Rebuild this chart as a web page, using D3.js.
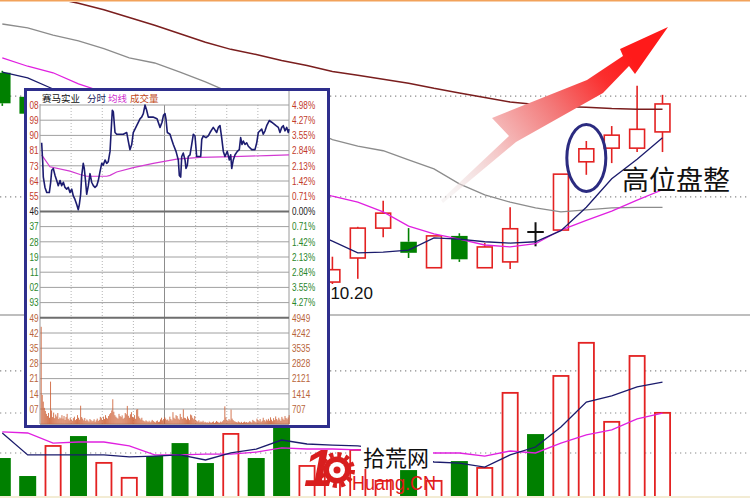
<!DOCTYPE html>
<html><head><meta charset="utf-8">
<script src="https://cdn.jsdelivr.net/npm/d3@7"></script>
<style>
html,body{margin:0;padding:0;background:#fff;}
svg{display:block;}
text{font-family:"Liberation Sans",Arial,sans-serif;}
.cjk{font-family:"Noto Sans CJK SC","Noto Sans",sans-serif;}
</style></head><body>
<svg id="chart" width="750" height="498"></svg>
<script>
// ---------- daily K-line (day 0 = the 10.20 low) ----------
const days = d3.range(-13, 14);
const candleDay   = [-13, -12, 0, 1, 2, 3, 4, 5, 6, 7, 8, 9, 10, 11, 12, 13];
const candleOpen  = [13.45, 13.08, 10.23, 10.60, 11.06, 10.85, 10.45, 10.94, 10.45, 10.54, 11.00, 11.03, 12.08, 12.29, 12.29, 12.54];
const candleHigh  = [13.48, 13.11, 10.62, 11.08, 11.48, 11.06, 10.94, 10.98, 10.83, 11.38, 11.15, 11.89, 12.40, 12.63, 13.25, 13.11];
const candleLow   = [12.94, 12.78, 10.20, 10.28, 10.92, 10.60, 10.45, 10.54, 10.45, 10.43, 10.78, 11.03, 11.88, 12.06, 12.23, 12.23];
const candleClose = [12.98, 12.82, 10.42, 11.06, 11.29, 10.68, 10.94, 10.58, 10.77, 11.05, 11.00, 11.89, 12.28, 12.49, 12.58, 12.97];

// moving averages of price, one value per day
const ma5  = [13.46, 13.37, 13.20, 13.03, 12.85, 12.65, 12.42, 12.18, 11.95, 11.72, 11.49, 11.26, 11.03,
              10.86, 10.68, 10.69, 10.72, 10.91, 10.89, 10.85, 10.83, 10.85, 11.02, 11.38, 11.82, 12.12, 12.45];
const ma10 = [13.68, 13.55, 13.45, 13.28, 13.15, 13.00, 12.83, 12.65, 12.45, 12.26, 12.06, 11.88, 11.69,
              11.55, 11.46, 11.31, 11.09, 10.97, 10.89, 10.80, 10.77, 10.82, 11.03, 11.18, 11.32, 11.49, 11.65];
const ma30 = [14.20, 14.14, 14.03, 13.94, 13.82, 13.68, 13.60, 13.46, 13.31, 13.14, 12.97, 12.78, 12.60,
              12.42, 12.32, 12.25, 12.11, 11.97, 11.74, 11.57, 11.46, 11.37, 11.31, 11.34, 11.37, 11.38, 11.38];
const ma60 = [14.80, 14.69, 14.60, 14.52, 14.42, 14.30, 14.18, 14.05, 13.92, 13.81, 13.73, 13.64, 13.56,
              13.47, 13.41, 13.35, 13.29, 13.21, 13.14, 13.07, 13.00, 12.96, 12.93, 12.92, 12.90, 12.89, 12.89];

// daily volume (手) and whether the day closed up
const volume   = [2110, 1110, 2830, 3330, 1890, 1060, 2220, 2940, 1830, 3500, 2110, 4220, 1720,
                  1670, 2610, 890, 1440, 890, 1940, 1610, 5780, 3440, 6720, 8560, 4170, 7830, 4670];
const volumeUp = [0, 0, 1, 0, 1, 1, 0, 0, 0, 1, 0, 0, 1,
                  1, 1, 1, 0, 1, 0, 1, 1, 0, 1, 1, 1, 1, 1];
const volMa5   = [3500, 2280, 2280, 2280, 2280, 2170, 2220, 2280, 2000, 2390, 2610, 3110, 2890,
                  2830, 2780, 2610, 2280, 1890, 1830, 1610, 2280, 2720, 3830, 5220, 5560, 6060, 6330];
const volMa10  = [3560, 3500, 2940, 3000, 3000, 2780, 2280, 2280, 2330, 2330, 2440, 2670, 2610,
                  2610, 2560, 2560, 2500, 2390, 2390, 2220, 2500, 2390, 2940, 3390, 3670, 4280, 4610];
const priceGridLevels = [13.09, 11.54];
const volGridLevels = [6950, 4610, 2390];

// ---------- intraday panel (分时) ----------
const stockName = "赛马实业";
const prevClose = 12.46;
const limitPct = 4.98;
const minuteT = [1.6, 2.6, 3.2, 4.8, 6.5, 9, 10.3, 11.3, 12.8, 14.5,
  16.1, 17.6, 19.3, 20.9, 22.5, 24.1, 25.7, 27.3, 28.9, 30.6,
  32.1, 33.7, 35.4, 36.9, 37.9, 39.2, 40.2, 41.7, 42.7, 44,
  45, 46.6, 48.2, 49.8, 51.4, 53, 54.7, 56.2, 57.8, 59.5,
  61, 62.7, 64.3, 65.8, 67.5, 68.4, 69.7, 70.7, 72.3, 73.9,
  77.1, 80.3, 83.6, 85.1, 86.7, 88.4, 89.9, 93.2, 96.4, 98,
  99.6, 101.2, 102.8, 104.4, 108.9, 112.8, 115.7, 117.6, 119, 120.5,
  121.4, 122.7, 125.3, 126.9, 128.5, 131.1, 133.3, 134.3, 135.6, 136.6,
  138.1, 139.8, 140.7, 142, 142.9, 144.6, 146.2, 147.8, 149.4, 151,
  154.9, 155.9, 157.4, 160, 162.2, 163.9, 167, 170.3, 171.9, 173.5,
  175.1, 176.7, 178.3, 180.5, 182.5, 183.8, 184.8, 186.3, 188, 190.2,
  192.1, 193.4, 194.7, 196, 197.6, 199.2, 200.8, 204.1, 207.2, 208.9,
  210.4, 213.7, 215.2, 216.9, 218.5, 221, 223.3, 227.5, 229.7, 231.3,
  233, 234.5, 236.1, 237.8, 239.3, 240];
const minutePrice = [12.86, 12.75, 12.66, 12.60, 12.57, 12.57, 12.63, 12.70, 12.71, 12.67,
  12.64, 12.61, 12.64, 12.61, 12.63, 12.60, 12.59, 12.60, 12.57, 12.59,
  12.55, 12.53, 12.50, 12.47, 12.50, 12.56, 12.67, 12.74, 12.71, 12.63,
  12.56, 12.61, 12.68, 12.63, 12.61, 12.60, 12.61, 12.64, 12.69, 12.74,
  12.73, 12.76, 12.74, 12.75, 12.81, 12.91, 13.05, 13.04, 12.92, 12.91,
  12.91, 12.91, 12.92, 12.87, 12.82, 12.85, 12.92, 12.96, 13.00, 13.01,
  13.03, 13.08, 13.05, 13.01, 13.01, 13.00, 12.95, 12.98, 13.02, 13.03,
  13.00, 12.92, 12.91, 12.88, 12.85, 12.81, 12.76, 12.67, 12.66, 12.78,
  12.80, 12.76, 12.71, 12.73, 12.78, 12.79, 12.85, 12.91, 12.90, 12.78,
  12.78, 12.88, 12.90, 12.89, 12.90, 12.92, 12.95, 12.92, 12.95, 12.96,
  12.89, 12.81, 12.78, 12.81, 12.76, 12.79, 12.71, 12.76, 12.79, 12.81,
  12.82, 12.89, 12.85, 12.87, 12.85, 12.86, 12.84, 12.82, 12.82, 12.86,
  12.92, 12.94, 12.91, 12.93, 12.96, 12.99, 12.98, 12.96, 12.95, 12.92,
  12.95, 12.96, 12.93, 12.95, 12.92, 12.94];
const avgT     = [1.6, 9.6, 28.9, 38.6, 45, 64.3, 67.5, 73.9, 89.9, 109.2, 131.8, 154.2, 186.3, 218.5, 240];
const avgPrice = [12.79, 12.72, 12.695, 12.675, 12.665, 12.665, 12.67, 12.69, 12.715, 12.74, 12.765, 12.775, 12.78, 12.785, 12.79];
const minuteVolume = [
  4530, 1360, 1050, 760, 620, 480, 380, 520, 300, 1980, 640, 330, 540, 280, 450, 360, 520, 240, 310, 270,
  420, 260, 380, 200, 330, 480, 250, 180, 300, 220, 160, 280, 350, 190, 240, 420, 300, 210, 860, 330,
  260, 180, 290, 150, 220, 170, 120, 240, 190, 130, 160, 230, 110, 180, 260, 150, 200, 340, 280, 190,
  350, 240, 420, 300, 260, 380, 460, 520, 640, 1160, 580, 420, 350, 300, 260, 480, 380, 330, 410, 250,
  300, 520, 460, 850, 390, 300, 460, 560, 340, 300, 420, 250, 680, 700, 360, 280, 220, 300, 180, 150,
  120, 180, 140, 100, 160, 90, 130, 200, 150, 110, 80, 140, 170, 100, 120, 220, 300, 180, 240, 330,
  260, 190, 220, 160, 350, 240, 180, 560, 300, 240, 420, 380, 260, 210, 480, 330, 250, 690, 300, 280,
  220, 360, 260, 190, 450, 410, 300, 230, 380, 190, 150, 120, 180, 90, 130, 100, 160, 80, 110, 70,
  90, 60, 120, 80, 70, 100, 130, 60, 90, 150, 110, 80, 70, 120, 90, 140, 200, 830, 320, 180,
  150, 240, 180, 680, 260, 190, 140, 120, 100, 80, 130, 90, 70, 110, 60, 90, 120, 80, 100, 70,
  90, 140, 110, 80, 200, 150, 120, 90, 260, 180, 140, 240, 110, 160, 300, 190, 130, 220, 170, 250,
  160, 320, 210, 140, 280, 190, 360, 240, 180, 300, 220, 150, 340, 260, 200, 380, 290, 230, 310, 420];
const priceTickLabels = ["08", "99", "90", "81", "73", "64", "55", "46", "37", "28", "19", "11", "02", "93"];
const pctTickLabels   = ["4.98%", "4.27%", "3.55%", "2.84%", "2.13%", "1.42%", "0.71%", "0.00%",
                         "0.71%", "1.42%", "2.13%", "2.84%", "3.55%", "4.27%"];
const volTickValues      = [4949, 4242, 3535, 2828, 2121, 1414, 707];
const volTickLabelsLeft  = ["49", "42", "35", "28", "21", "14", "07"];
const volTickLabelsRight = ["4949", "4242", "3535", "2828", "2121", "1414", "707"];

// ---------- drawing ----------
const W = 750, H = 498;
const RED = "#e32222", GREEN = "#008000", NAVY = "#1b1b6c", MAGENTA = "#e020e0";
const svg = d3.select("#chart");
const defs = svg.append("defs");
defs.append("clipPath").attr("id", "pricePane")
  .append("rect").attr("x", 0).attr("y", 2).attr("width", W).attr("height", 312);
defs.append("clipPath").attr("id", "volPane")
  .append("rect").attr("x", 0).attr("y", 316).attr("width", W).attr("height", 180);

const x  = d3.scaleLinear().domain([-13, 13]).range([2.3, 662.5]);
const y  = d3.scaleLinear().domain([10.20, 13.10]).range([284, 95.5]);
const yv = d3.scaleLinear().domain([0, 10000]).range([496, 316]);

svg.append("rect").attr("width", W).attr("height", H).attr("fill", "#fff");
svg.append("line").attr("x1", 0).attr("x2", W).attr("y1", 0.7).attr("y2", 0.7)
  .attr("stroke", "#f2a25a").attr("stroke-width", 1.6);
svg.append("rect").attr("x", 0).attr("y", 496).attr("width", W).attr("height", 2).attr("fill", "#f3ecd4");

// grid
const grid = svg.append("g");
const dotted = priceGridLevels.map(p => y(p)).concat(volGridLevels.map(v => yv(v)));
dotted.forEach(gy => grid.append("line").attr("x1", 0).attr("x2", W).attr("y1", gy).attr("y2", gy)
  .attr("stroke", "#8a8a8a").attr("stroke-width", 1.2).attr("stroke-dasharray", "1.3,3.7"));
grid.append("line").attr("x1", 0).attr("x2", W).attr("y1", 315).attr("y2", 315)
  .attr("stroke", "#a9a9a9").attr("stroke-width", 1.5);

// volume bars
const gV = svg.append("g").attr("clip-path", "url(#volPane)");
const bw = 17;
days.forEach((d, k) => {
  const top = yv(volume[k]);
  if (volumeUp[k]) {
    gV.append("rect").attr("x", x(d) - bw / 2 + 0.9).attr("y", top + 0.9)
      .attr("width", bw - 1.8).attr("height", 496 - top).attr("fill", "#fff")
      .attr("stroke", RED).attr("stroke-width", 1.8);
  } else {
    gV.append("rect").attr("x", x(d) - bw / 2).attr("y", top)
      .attr("width", bw).attr("height", 496 - top).attr("fill", GREEN);
  }
});
const vLine = d3.line().x((v, k) => x(days[k])).y(v => yv(v));
gV.append("path").attr("d", vLine(volMa10)).attr("fill", "none").attr("stroke", MAGENTA).attr("stroke-width", 1.3);
gV.append("path").attr("d", vLine(volMa5)).attr("fill", "none").attr("stroke", NAVY).attr("stroke-width", 1.3);

// candles
const gC = svg.append("g").attr("clip-path", "url(#pricePane)");
const cw = 16.5;
candleDay.forEach((d, k) => {
  const o = candleOpen[k], c = candleClose[k], h = candleHigh[k], l = candleLow[k];
  const cx = x(d);
  if (o === c) {
    gC.append("line").attr("x1", cx).attr("x2", cx).attr("y1", y(h)).attr("y2", y(l))
      .attr("stroke", "#111").attr("stroke-width", 2);
    gC.append("line").attr("x1", cx - cw / 2).attr("x2", cx + cw / 2).attr("y1", y(o)).attr("y2", y(o))
      .attr("stroke", "#111").attr("stroke-width", 2);
    return;
  }
  const up = c > o;
  const col = up ? RED : GREEN;
  const top = y(Math.max(o, c)), bot = y(Math.min(o, c));
  gC.append("line").attr("x1", cx).attr("x2", cx).attr("y1", y(h)).attr("y2", top)
    .attr("stroke", col).attr("stroke-width", 1.6);
  gC.append("line").attr("x1", cx).attr("x2", cx).attr("y1", bot).attr("y2", y(l))
    .attr("stroke", col).attr("stroke-width", 1.6);
  if (up) {
    gC.append("rect").attr("x", cx - cw / 2 + 0.8).attr("y", top).attr("width", cw - 1.6)
      .attr("height", bot - top).attr("fill", "#fff").attr("stroke", col).attr("stroke-width", 1.6);
  } else {
    gC.append("rect").attr("x", cx - cw / 2).attr("y", top).attr("width", cw)
      .attr("height", bot - top).attr("fill", col);
  }
});

// price moving averages
const pLine = d3.line().x((v, k) => x(days[k])).y(v => y(v));
[[ma60, "#7a1e1e", 1.5], [ma30, "#8c8c8c", 1.3], [ma10, MAGENTA, 1.3], [ma5, NAVY, 1.3]].forEach(([s, col, w]) => {
  gC.append("path").attr("d", pLine(s)).attr("fill", "none").attr("stroke", col).attr("stroke-width", w);
});

// rising arrow
const grad = defs.append("linearGradient").attr("id", "arrowGrad")
  .attr("gradientUnits", "userSpaceOnUse").attr("x1", 448).attr("y1", 198).attr("x2", 632).attr("y2", 58);
[[0, "#ece4e4", 0.35], [0.3, "#f5c6c6", 1], [0.6, "#f37878", 1], [0.85, "#fb2e2e", 1], [1, "#ff1a1a", 1]]
  .forEach(([o, c, a]) => grad.append("stop").attr("offset", o).attr("stop-color", c).attr("stop-opacity", a));
const arrowPts = [[668, 27], [635, 74], [629, 66], [603, 93], [516, 142], [443, 203], [441, 200],
                  [509, 136], [492, 118], [587, 80], [623, 56], [620, 49]];
svg.append("path").attr("d", d3.line()(arrowPts) + "Z").attr("fill", "url(#arrowGrad)");

// consolidation marker
const hiDay = 10;
const hk = candleDay.indexOf(hiDay);
svg.append("ellipse").attr("cx", x(hiDay)).attr("cy", (y(candleHigh[hk]) + y(candleLow[hk])) / 2)
  .attr("rx", 19.5).attr("ry", 33.5).attr("fill", "none").attr("stroke", "#2b2b80").attr("stroke-width", 3);
svg.append("text").attr("class", "cjk").attr("x", 622).attr("y", 190).attr("font-size", 27)
  .attr("fill", "#111").text("高位盘整");

// ---------- intraday inset ----------
const ins = svg.append("g");
ins.append("rect").attr("x", 25.5).attr("y", 89.5).attr("width", 303).attr("height", 337)
  .attr("fill", "#fff").attr("stroke", "#2e2e8c").attr("stroke-width", 3);
const ix  = d3.scaleLinear().domain([0, 240]).range([40, 289]);
const iy  = d3.scaleLinear().domain([prevClose * (1 - limitPct / 100), prevClose * (1 + limitPct / 100)]).range([317.8, 105]);
const ivy = d3.scaleLinear().domain([0, 4949]).range([424.2, 317.8]);
const step = prevClose * limitPct / 100 / 7;
const priceTicks = d3.range(7, -7, -1).map(k => prevClose + k * step);

// vertical grid
d3.range(1, 8).forEach(k => {
  const gx = ix(30 * k);
  ins.append("line").attr("x1", gx).attr("x2", gx).attr("y1", 105).attr("y2", 424)
    .attr("stroke", k === 4 ? "#8c8c8c" : "#b4b4b4").attr("stroke-width", 1)
    .attr("stroke-dasharray", k === 4 ? null : "1,2");
});
ins.append("line").attr("x1", 40).attr("x2", 40).attr("y1", 104).attr("y2", 424).attr("stroke", "#9a9a9a");
ins.append("line").attr("x1", 289).attr("x2", 289).attr("y1", 91).attr("y2", 424).attr("stroke", "#9a9a9a");
// horizontal grid
priceTicks.forEach((p, k) => {
  const gy = iy(p);
  const strong = k === 7;
  ins.append("line").attr("x1", 40).attr("x2", 289).attr("y1", gy).attr("y2", gy)
    .attr("stroke", strong ? "#6e6e6e" : "#a0a0a0").attr("stroke-width", strong ? 2 : 1);
});
volTickValues.forEach((v, k) => {
  const gy = ivy(v);
  ins.append("line").attr("x1", 40).attr("x2", 289).attr("y1", gy).attr("y2", gy)
    .attr("stroke", k === 0 ? "#6e6e6e" : "#a0a0a0").attr("stroke-width", k === 0 ? 2 : 1);
});
ins.append("line").attr("x1", 40).attr("x2", 289).attr("y1", ivy(0)).attr("y2", ivy(0)).attr("stroke", "#8a8a8a");

// axis labels (narrow digits)
function narrow(tx, ty, str, color, anchor) {
  ins.append("text").attr("transform", `translate(${tx},${ty}) scale(0.78,1)`)
    .attr("text-anchor", anchor).attr("dy", "0.36em").attr("font-size", 10.5)
    .attr("fill", color).text(str);
}
const UPC = "#c23a2a", DNC = "#2a862a", ZC = "#222", VC = "#b8643a";
priceTicks.forEach((p, k) => {
  const col = k < 7 ? UPC : (k === 7 ? ZC : DNC);
  narrow(38.5, iy(p), priceTickLabels[k], col, "end");
  narrow(292, iy(p), pctTickLabels[k], col, "start");
});
volTickValues.forEach((v, k) => {
  narrow(38.5, ivy(v), volTickLabelsLeft[k], VC, "end");
  narrow(292, ivy(v), volTickLabelsRight[k], VC, "start");
});

// minute volume
minuteVolume.forEach((v, m) => {
  ins.append("line").attr("x1", ix(m) + 1.2).attr("x2", ix(m) + 1.2)
    .attr("y1", ivy(0)).attr("y2", ivy(v)).attr("stroke", "#cc5f35").attr("stroke-opacity", 0.85).attr("stroke-width", 1);
});
// price and average lines
ins.append("path").attr("d", d3.line().x((t, k) => ix(t)).y((t, k) => iy(avgPrice[k]))(avgT))
  .attr("fill", "none").attr("stroke", "#d23ad2").attr("stroke-width", 1.2);
ins.append("path").attr("d", d3.line().x((t, k) => ix(t)).y((t, k) => iy(minutePrice[k]))(minuteT))
  .attr("fill", "none").attr("stroke", "#1c1c70").attr("stroke-width", 1.6).attr("stroke-linejoin", "round");

// title row
[[stockName, 42, "#111"], ["分时", 87, "#1c1c60"], ["均线", 108, "#d030d0"], ["成交量", 130, "#c04818"]]
  .forEach(([t, tx, c]) => ins.append("text").attr("class", "cjk").attr("x", tx).attr("y", 101.5)
    .attr("font-size", 9.5).attr("fill", c).text(t));

// low price label
svg.append("text").attr("x", x(0) - 2).attr("y", y(10.20) + 15).attr("font-size", 17)
  .attr("fill", "#111").text(d3.format(".2f")(10.20));

// ---------- site mark ----------
const wm = svg.append("g");
wm.append("rect").attr("x", 361).attr("y", 444).attr("width", 72).attr("height", 25).attr("fill", "#fff");
wm.append("text").attr("x", 304).attr("y", 485.5).attr("font-size", 52).attr("font-weight", "bold")
  .attr("font-style", "italic").attr("fill", "#d81e1e").text("1");
wm.append("circle").attr("cx", 337).attr("cy", 470).attr("r", 13.5).attr("fill", "#d81e1e");
wm.append("circle").attr("cx", 337).attr("cy", 470).attr("r", 15.5).attr("fill", "none")
  .attr("stroke", "#d81e1e").attr("stroke-width", 5).attr("stroke-dasharray", "4.1,4");
wm.append("circle").attr("cx", 337).attr("cy", 470).attr("r", 8).attr("fill", "#fff");
wm.append("circle").attr("cx", 337).attr("cy", 470).attr("r", 3.5).attr("fill", "#d81e1e");
wm.append("text").attr("class", "cjk").attr("x", 363).attr("y", 466).attr("font-size", 22)
  .attr("fill", "#111").text("拾荒网");
wm.append("text").attr("x", 352).attr("y", 490).attr("font-size", 21).attr("fill", "#e01818")
  .attr("textLength", 84).attr("lengthAdjust", "spacingAndGlyphs").text("Huang.CN");
</script>
</body></html>
